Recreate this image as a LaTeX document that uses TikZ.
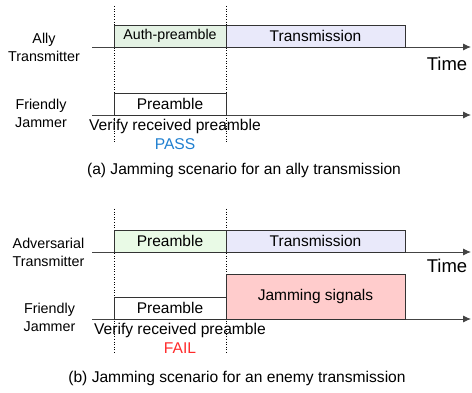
\documentclass[tikz,border=0pt]{standalone}
\usepackage{fontspec}
\setmainfont{Liberation Sans}
\usetikzlibrary{arrows.meta}
\definecolor{authgreen}{HTML}{E4F2E4}
\definecolor{pregreen}{HTML}{E9FAE6}
\definecolor{txblue}{HTML}{E9E9FA}
\definecolor{jampink}{HTML}{FFCCCC}
\definecolor{edge}{HTML}{333333}
\definecolor{axisgray}{HTML}{444444}
\definecolor{passblue}{HTML}{1F7FD0}
\definecolor{failred}{HTML}{FF2A2A}
\tikzset{
  slot/.style={draw=edge, line width=0.8pt, inner sep=0pt, minimum height=22pt, font=\fontsize{15.5}{18}\selectfont},
  tall/.style={slot, minimum height=45pt},
  axisline/.style={draw=axisgray, line width=0.9pt, -{Latex[length=8pt,width=7pt]}},
  guide/.style={draw=black, line width=0.6pt, dotted},
  lbl/.style={align=center, font=\fontsize{14.3}{17}\selectfont, inner sep=0pt},
  txt/.style={font=\fontsize{15.6}{18}\selectfont, inner sep=0pt},
  timelbl/.style={font=\fontsize{18.5}{22}\selectfont, inner sep=0pt},
}
\begin{document}
\begin{tikzpicture}[x=1pt,y=-1pt]
\useasboundingbox (0,0) rectangle (472,393);
% ---------- (a)
\coordinate (ga1t) at (114,6);   \coordinate (ga1b) at (114,143);
\coordinate (ga2t) at (226,6);   \coordinate (ga2b) at (226,143);
\draw[guide] (ga1t) -- (ga1b);
\draw[guide] (ga2t) -- (ga2b);
\coordinate (aTs) at (92,47);  \coordinate (aTe) at (471,47);
\coordinate (aJs) at (92,115); \coordinate (aJe) at (471,115);
\draw[axisline] (aTs) -- (aTe);
\draw[axisline] (aJs) -- (aJe);
\node[slot, fill=authgreen, minimum width=112pt, font=\fontsize{14.2}{17}\selectfont] (aauth) at (170,36) {Auth-preamble};
\node[slot, fill=txblue, minimum width=179pt] (atx) at (315.5,36) {Transmission};
\node[slot, fill=white, minimum width=112pt] (apre) at (170,104) {Preamble};
\node[timelbl] (atime) at (447,64) {Time};
\node[lbl] (aally) at (44,47) {Ally\\[1pt]Transmitter};
\node[lbl] (afj) at (41,113) {Friendly\\[1pt]Jammer};
\node[txt] (aver) at (175,126) {Verify received preamble};
\node[txt, text=passblue] (apass) at (175,144) {PASS};
\node[txt] (acap) at (244,170) {(a) Jamming scenario for an ally transmission};
% ---------- (b)
\coordinate (gb1t) at (114,209); \coordinate (gb1b) at (114,354);
\coordinate (gb2t) at (226,209); \coordinate (gb2b) at (226,354);
\draw[guide] (gb1t) -- (gb1b);
\draw[guide] (gb2t) -- (gb2b);
\coordinate (bTs) at (92,252);  \coordinate (bTe) at (471,252);
\coordinate (bJs) at (92,319);  \coordinate (bJe) at (471,319);
\draw[axisline] (bTs) -- (bTe);
\draw[axisline] (bJs) -- (bJe);
\node[slot, fill=pregreen, minimum width=112pt] (bpre) at (170,241) {Preamble};
\node[slot, fill=txblue, minimum width=179pt] (btx) at (315.5,241) {Transmission};
\node[slot, fill=white, minimum width=112pt] (bjpre) at (170,308) {Preamble};
\node[tall, fill=jampink, minimum width=179pt] (bjam) at (315.5,296.5) {Jamming signals};
\node[timelbl] (btime) at (447,266) {Time};
\node[lbl] (badv) at (48.5,252) {Adversarial\\[1pt]Transmitter};
\node[lbl] (bfj) at (49.5,317) {Friendly\\[1pt]Jammer};
\node[txt] (bver) at (180,330) {Verify received preamble};
\node[txt, text=failred] (bfail) at (180,348) {FAIL};
\node[txt] (bcap) at (237,378) {(b) Jamming scenario for an enemy transmission};
\end{tikzpicture}
\end{document}
